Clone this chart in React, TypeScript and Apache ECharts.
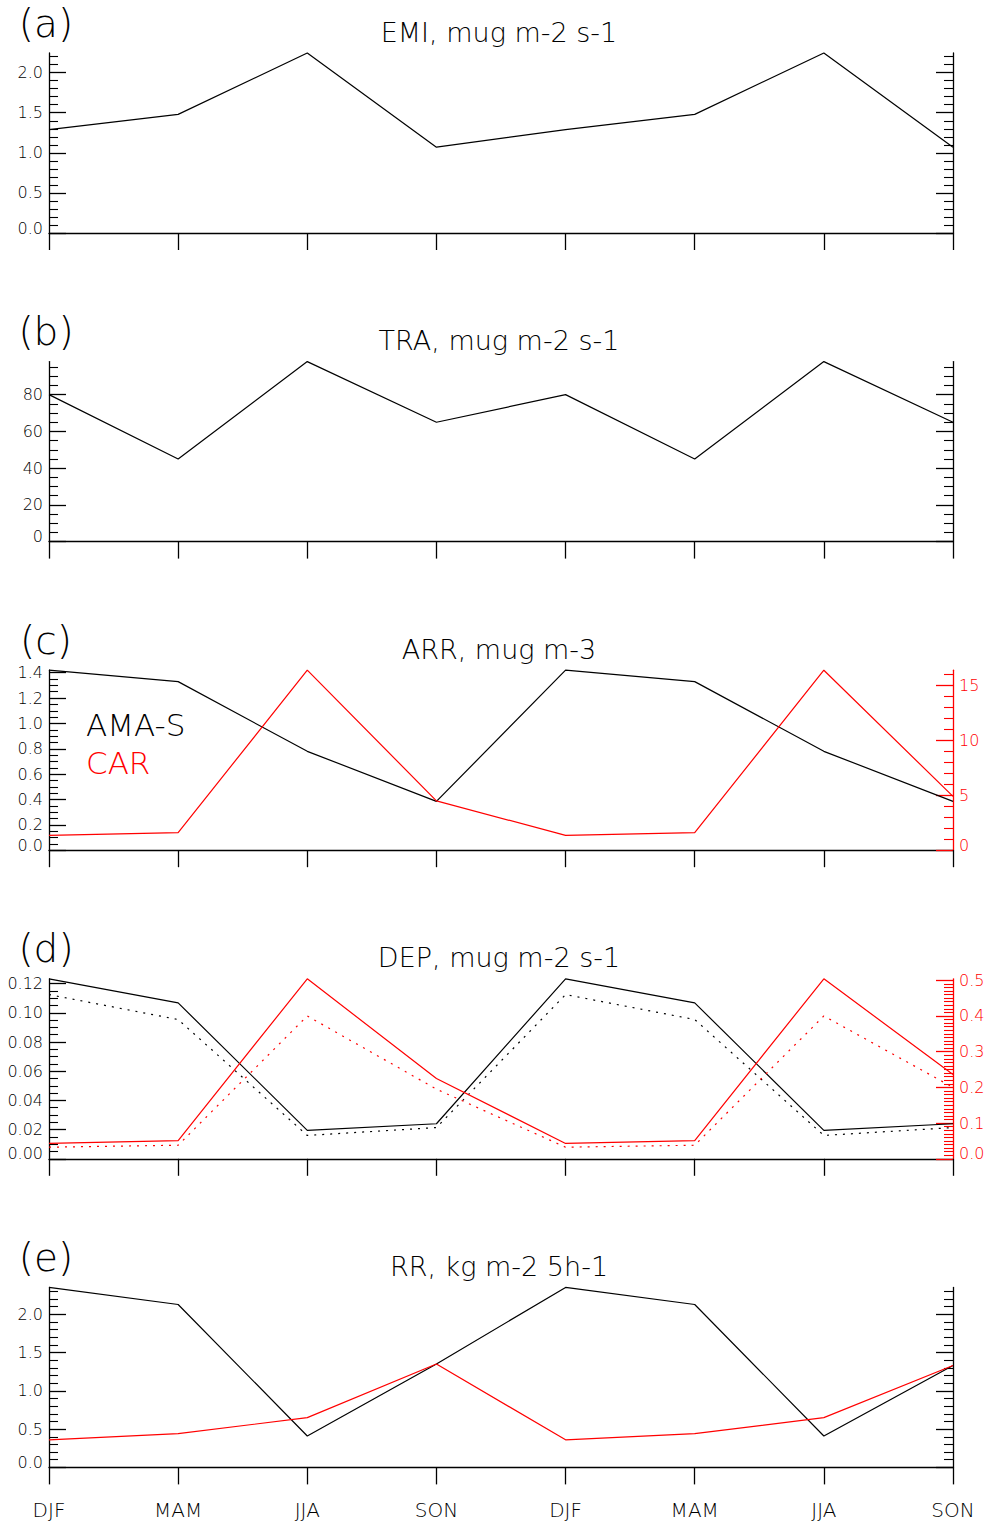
import React, { useEffect, useRef } from "react";
import * as echarts from "echarts";

// Seasonal cycle, two years, shown as 8 positions along the x axis
const seasons = ["DJF", "MAM", "JJA", "SON", "DJF", "MAM", "JJA", "SON"];

// (a) emission
const emi = [1.29, 1.48, 2.245, 1.07, 1.29, 1.48, 2.245, 1.07];
// (b) transport
const tra = [80, 45, 98, 65, 80, 45, 98, 65];
// (c) concentration, AMA-S on the left axis, CAR on the right axis
const arrAma = [1.42, 1.33, 0.78, 0.385, 1.42, 1.33, 0.78, 0.385];
const arrCar = [1.35, 1.6, 16.4, 4.5, 1.35, 1.6, 16.4, 4.9];
// (d) deposition, solid and dotted variants
const depAma = [0.1233, 0.1068, 0.0195, 0.024, 0.1233, 0.1068, 0.0195, 0.024];
const depAmaDot = [0.1125, 0.0954, 0.016, 0.0214, 0.1125, 0.0954, 0.016, 0.0214];
const depCar = [0.043, 0.051, 0.504, 0.225, 0.043, 0.051, 0.504, 0.236];
const depCarDot = [0.0325, 0.038, 0.4, 0.195, 0.0325, 0.038, 0.4, 0.2];
// (e) rain rate
const rrAma = [2.35, 2.127, 0.41, 1.35, 2.35, 2.127, 0.41, 1.33];
const rrCar = [0.36, 0.44, 0.65, 1.35, 0.36, 0.44, 0.65, 1.33];

const panelLabels = ["(a)", "(b)", "(c)", "(d)", "(e)"];
const panelTitles = [
  "EMI, mug m-2 s-1",
  "TRA, mug m-2 s-1",
  "ARR, mug m-3",
  "DEP, mug m-2 s-1",
  "RR, kg m-2 5h-1",
];
const legendNames = ["AMA-S", "CAR"];

const FONT = "DejaVu Sans";
const THIN = 200;
const BLACK = "#000000";
const RED = "#ff0000";
const TEXT = "#000000";

const TOP0 = 53;
const STEP = 308.6;
const PLOT_H = 180;
const GRID_LEFT = 49;
const GRID_RIGHT = 32;

type AxisSpec = {
  grid: number;
  max: number;
  interval: number;
  minor: number;
  decimals: number;
  side: "left" | "right";
  color: string;
  labels: boolean;
};

function tickValues(max: number, interval: number, decimals: number) {
  const out: number[] = [];
  for (let k = 0; k * interval <= max + 1e-9; k++) {
    out.push(Number((k * interval).toFixed(decimals + 2)));
  }
  return out;
}

function makeYAxis(s: AxisSpec) {
  const ticks = tickValues(s.max, s.interval, s.decimals);
  const labelColor = s.color === BLACK ? TEXT : s.color;
  return {
    type: "value",
    gridIndex: s.grid,
    position: s.side,
    min: 0,
    max: s.max,
    interval: s.interval,
    axisLine: { show: true, onZero: false, lineStyle: { color: s.color, width: 1.3 } },
    axisTick: {
      show: true,
      inside: true,
      length: 17,
      customValues: ticks,
      lineStyle: { color: s.color, width: 1.3 },
    },
    minorTick: {
      show: true,
      splitNumber: s.minor,
      length: 9,
      lineStyle: { color: s.color, width: 1.1 },
    },
    axisLabel: {
      show: s.labels,
      customValues: ticks,
      margin: 6,
      color: labelColor,
      fontSize: 16,
      fontFamily: FONT,
      fontWeight: THIN,
      formatter: (v: number) => {
        const txt = v.toFixed(s.decimals);
        return Math.abs(v) < 1e-12 ? `{z|${txt}}` : txt;
      },
      rich: {
        z: {
          padding: [0, 0, 10, 0],
          fontSize: 16,
          fontFamily: FONT,
          fontWeight: THIN,
          color: labelColor,
        },
      },
    },
    splitLine: { show: false },
    minorSplitLine: { show: false },
  };
}

function makeXAxis(grid: number, showLabels: boolean) {
  return {
    type: "value",
    gridIndex: grid,
    min: 0,
    max: seasons.length - 1,
    interval: 1,
    axisLine: { show: true, onZero: false, lineStyle: { color: BLACK, width: 1.3 } },
    axisTick: { show: true, inside: false, length: 17, lineStyle: { color: BLACK, width: 1.3 } },
    axisLabel: {
      show: showLabels,
      margin: 33,
      color: TEXT,
      fontSize: 20,
      fontFamily: FONT,
      fontWeight: THIN,
      formatter: (v: number) => seasons[Math.round(v)] ?? "",
    },
    splitLine: { show: false },
  };
}

function lineSeries(
  name: string,
  values: number[],
  xAxisIndex: number,
  yAxisIndex: number,
  color: string,
  dotted = false
) {
  return {
    type: "line",
    name,
    xAxisIndex,
    yAxisIndex,
    data: values.map((v, i) => [i, v]),
    showSymbol: false,
    symbol: "none",
    clip: false,
    silent: true,
    lineStyle: { color, width: 1.2, type: dotted ? [2, 6] : "solid" },
  };
}

export default function App() {
  const ref = useRef<HTMLDivElement>(null);

  useEffect(() => {
    if (!ref.current) return;
    const chart = echarts.init(ref.current, undefined, { renderer: "svg" });

    const grids = [0, 1, 2, 3, 4].map((i) => ({
      left: GRID_LEFT,
      right: GRID_RIGHT,
      top: TOP0 + i * STEP,
      height: PLOT_H,
      outerBoundsMode: "none",
      containLabel: false,
    }));

    const xAxes = [0, 1, 2, 3, 4].map((i) => makeXAxis(i, i === 4));

    const yAxes = [
      // (a)
      makeYAxis({ grid: 0, max: 2.245, interval: 0.5, minor: 5, decimals: 1, side: "left", color: BLACK, labels: true }),
      makeYAxis({ grid: 0, max: 2.245, interval: 0.5, minor: 5, decimals: 1, side: "right", color: BLACK, labels: false }),
      // (b)
      makeYAxis({ grid: 1, max: 98, interval: 20, minor: 4, decimals: 0, side: "left", color: BLACK, labels: true }),
      makeYAxis({ grid: 1, max: 98, interval: 20, minor: 4, decimals: 0, side: "right", color: BLACK, labels: false }),
      // (c)
      makeYAxis({ grid: 2, max: 1.42, interval: 0.2, minor: 4, decimals: 1, side: "left", color: BLACK, labels: true }),
      makeYAxis({ grid: 2, max: 16.4, interval: 5, minor: 5, decimals: 0, side: "right", color: RED, labels: true }),
      // (d)
      makeYAxis({ grid: 3, max: 0.1233, interval: 0.02, minor: 4, decimals: 2, side: "left", color: BLACK, labels: true }),
      makeYAxis({ grid: 3, max: 0.504, interval: 0.1, minor: 10, decimals: 1, side: "right", color: RED, labels: true }),
      // (e)
      makeYAxis({ grid: 4, max: 2.35, interval: 0.5, minor: 5, decimals: 1, side: "left", color: BLACK, labels: true }),
      makeYAxis({ grid: 4, max: 2.35, interval: 0.5, minor: 5, decimals: 1, side: "right", color: BLACK, labels: false }),
    ];

    const series = [
      lineSeries("EMI", emi, 0, 0, BLACK),
      lineSeries("TRA", tra, 1, 2, BLACK),
      lineSeries(legendNames[0], arrAma, 2, 4, BLACK),
      lineSeries(legendNames[1], arrCar, 2, 5, RED),
      lineSeries(legendNames[0], depAma, 3, 6, BLACK),
      lineSeries(legendNames[0] + " dotted", depAmaDot, 3, 6, BLACK, true),
      lineSeries(legendNames[1], depCar, 3, 7, RED),
      lineSeries(legendNames[1] + " dotted", depCarDot, 3, 7, RED, true),
      lineSeries(legendNames[0], rrAma, 4, 8, BLACK),
      lineSeries(legendNames[1], rrCar, 4, 8, RED),
    ];

    const texts: any[] = [];
    panelLabels.forEach((lab, i) => {
      const top = TOP0 + i * STEP;
      texts.push({
        type: "text",
        x: 46,
        y: top - 30,
        silent: true,
        style: {
          text: lab,
          fill: TEXT,
          fontSize: 39,
          fontFamily: FONT,
          fontWeight: THIN,
          align: "center",
          verticalAlign: "middle",
        },
      });
      texts.push({
        type: "text",
        x: 499,
        y: top - 21,
        silent: true,
        style: {
          text: panelTitles[i],
          fill: TEXT,
          fontSize: 27,
          fontFamily: FONT,
          fontWeight: THIN,
          align: "center",
          verticalAlign: "middle",
        },
      });
    });
    const cTop = TOP0 + 2 * STEP;
    texts.push({
      type: "text",
      x: 86,
      y: cTop + 55,
      silent: true,
      style: {
        text: legendNames[0],
        fill: TEXT,
        fontSize: 31,
        fontFamily: FONT,
        fontWeight: THIN,
        align: "left",
        verticalAlign: "middle",
      },
    });
    texts.push({
      type: "text",
      x: 86,
      y: cTop + 93,
      silent: true,
      style: {
        text: legendNames[1],
        fill: RED,
        fontSize: 31,
        fontFamily: FONT,
        fontWeight: THIN,
        align: "left",
        verticalAlign: "middle",
      },
    });

    chart.setOption({
      animation: false,
      backgroundColor: "#ffffff",
      grid: grids,
      xAxis: xAxes,
      yAxis: yAxes,
      series,
      graphic: texts,
    });

    return () => chart.dispose();
  }, []);

  return (
    <div
      ref={ref}
      style={{ position: "absolute", left: 0, top: 0, width: 985, height: 1523 }}
    />
  );
}
